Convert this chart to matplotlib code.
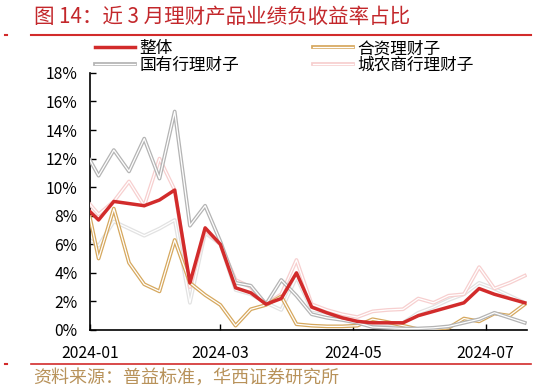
import numpy as np
import pandas as pd
import matplotlib
matplotlib.use("Agg")
import matplotlib.pyplot as plt
import matplotlib.dates as mdates
import matplotlib.patheffects as pe
from matplotlib.lines import Line2D
from matplotlib.ticker import FuncFormatter

plt.rcParams['font.family'] = ['Noto Sans CJK SC', 'DejaVu Sans']

# dates: Jan 1, then weekly (Fridays) to Jul 19
dates = pd.to_datetime(['2024-01-01']).append(pd.date_range('2024-01-05', '2024-07-19', freq='7D'))

overall = [8.3, 7.7, 9.0, 8.85, 8.7, 9.1, 9.8, 3.3, 7.15, 6.0,
           2.95, 2.6, 1.8, 2.2, 4.0, 1.6, 1.2, 0.85, 0.6, 0.5,
           0.5, 0.5, 1.0, 1.3, 1.6, 1.9, 2.9, 2.5, 2.2, 1.9]
jv = [7.9, 5.0, 8.5, 4.7, 3.2, 2.7, 6.3, 3.3, 2.45, 1.75,
      0.3, 1.45, 1.75, 2.35, 0.4, 0.3, 0.25, 0.25, 0.3, 0.75,
      0.55, 0.3, 0.05, 0.05, 0.15, 0.8, 0.6, 1.15, 1.0, 1.8]
state = [11.9, 10.8, 12.6, 11.1, 13.4, 10.6, 15.3, 7.3, 8.7, 6.2,
         3.3, 3.1, 1.8, 3.5, 2.4, 1.1, 0.85, 0.7, 0.5, 0.2,
         0.15, 0.1, 0.1, 0.15, 0.25, 0.5, 0.75, 1.2, 0.85, 0.5]
rural = [8.8, 8.1, 9.0, 10.4, 8.7, 12.0, 9.8, 3.0, 7.0, 6.0,
         3.5, 3.0, 1.8, 2.5, 4.9, 1.8, 1.4, 1.1, 0.9, 1.3,
         1.4, 1.45, 2.2, 1.9, 2.4, 2.5, 4.4, 2.9, 3.3, 3.8]
joint = [6.3, 5.9, 7.6, 7.1, 6.6, 7.1, 7.7, 1.9, 6.8, 6.0,
         2.8, 2.5, 1.9, 1.4, 3.7, 1.4, 1.2, 0.8, 0.6, 0.4,
         0.4, 0.5, 1.2, 1.6, 2.1, 2.5, 3.3, 2.9, 2.4, 1.9]

tick_dates = pd.to_datetime(['2024-01-01', '2024-03-01', '2024-05-01', '2024-07-01'])


def hollow(color):
    return [pe.Stroke(linewidth=2.7, foreground=color), pe.Stroke(linewidth=0.9, foreground='white')]


fig = plt.figure(figsize=(5.35, 3.9), dpi=100)
ax = fig.add_axes([0.168, 0.154, 0.817, 0.659])

ax.plot(dates, joint, color='#e2e2e2', path_effects=hollow('#e2e2e2'), zorder=2)
ax.plot(dates, rural, color='#f7cfcf', path_effects=hollow('#f7cfcf'), label='城农商行理财子', zorder=3)
ax.plot(dates, jv, color='#d6a85e', path_effects=hollow('#d6a85e'), label='合资理财子', zorder=4)
ax.plot(dates, state, color='#b4b4b4', path_effects=hollow('#b4b4b4'), label='国有行理财子', zorder=5)
ax.plot(dates, overall, color='#d22b2b', lw=2.5, label='整体', zorder=6)

ax.set_ylim(0, 18)
ax.set_yticks(np.arange(0, 19, 2))
ax.yaxis.set_major_formatter(FuncFormatter(lambda v, p: '%d%%' % v))
ax.set_xlim(dates[0], dates[-1] + pd.Timedelta(days=1))
ax.set_xticks(tick_dates)
ax.xaxis.set_major_formatter(mdates.DateFormatter('%Y-%m'))
ax.tick_params(axis='both', direction='in', length=4, width=1, labelsize=11.3)
ax.tick_params(axis='y', pad=9)
ax.tick_params(axis='x', pad=11)
for s in ['top', 'right']:
    ax.spines[s].set_visible(False)
for s in ['left', 'bottom']:
    ax.spines[s].set_linewidth(1.2)

h, l = ax.get_legend_handles_labels()
order = ['整体', '国有行理财子', '合资理财子', '城农商行理财子']
hd = dict(zip(l, h))
fig.legend([hd[k] for k in order], order, loc='upper left', bbox_to_anchor=(0.177, 0.897),
           ncol=2, frameon=False, fontsize=12, handlelength=2.4, handletextpad=0.3,
           columnspacing=4.4, labelspacing=0.0, borderaxespad=0, borderpad=0)

fig.text(0.064, 0.956, '图 14：近 3 月理财产品业绩负收益率占比', color='#c3272b', fontsize=14.8,
         va='center', ha='left')
fig.add_artist(Line2D([0.058, 0.993], [0.91, 0.91], color='#d22b2b', lw=1.5))
fig.add_artist(Line2D([0.058, 0.993], [0.067, 0.067], color='#d22b2b', lw=1.2))
fig.add_artist(Line2D([0.009, 0.013], [0.91, 0.91], color='#d22b2b', lw=1.5))
fig.add_artist(Line2D([0.009, 0.013], [0.067, 0.067], color='#d22b2b', lw=1.5))
fig.text(0.062, 0.03, '资料来源：普益标准，华西证券研究所', color='#b8925a', fontsize=13,
         va='center', ha='left')

fig.savefig('out.png', dpi=100)
